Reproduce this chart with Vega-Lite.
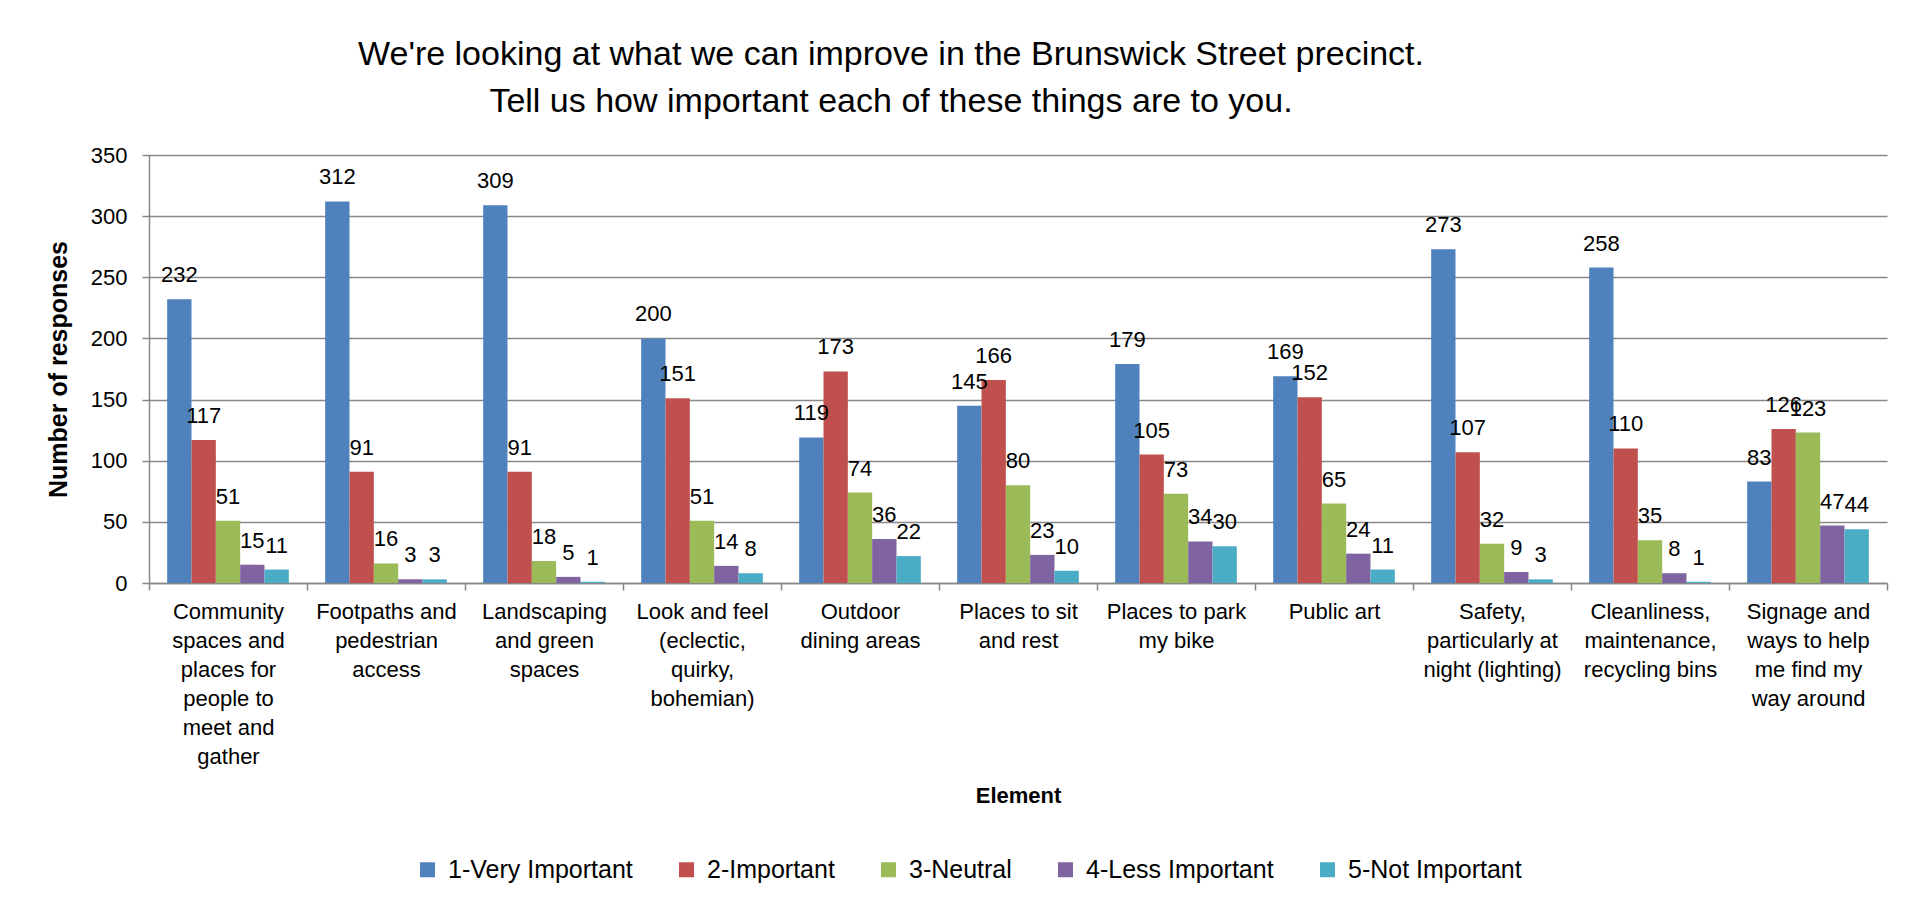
{
  "$schema": "https://vega.github.io/schema/vega-lite/v6.json",
  "width": 1738,
  "height": 428,
  "autosize": {"type": "none"},
  "padding": {"left": 149, "top": 155, "right": 29, "bottom": 322},
  "background": "white",
  "title": {
    "text": ["We're looking at what we can improve in the Brunswick Street precinct.", "Tell us how important each of these things are to you."],
    "font": "Liberation Sans",
    "fontSize": 34,
    "fontWeight": "normal",
    "color": "black",
    "anchor": "middle",
    "frame": "group",
    "dx": -127,
    "lineHeight": 47,
    "offset": 25
  },
  "config": {
    "view": {"stroke": null},
    "font": "Liberation Sans",
    "axis": {
      "labelFont": "Liberation Sans",
      "titleFont": "Liberation Sans",
      "labelColor": "black",
      "titleColor": "black",
      "domainColor": "#888888",
      "tickColor": "#888888",
      "gridColor": "#888888",
      "domainWidth": 1.5,
      "tickWidth": 1.5,
      "gridWidth": 1.5
    },
    "legend": {"labelFont": "Liberation Sans"}
  },
  "data": {
    "values": [
      {"element": "Community|spaces and|places for|people to|meet and|gather", "series": "1-Very Important", "value": 232},
      {"element": "Community|spaces and|places for|people to|meet and|gather", "series": "2-Important", "value": 117},
      {"element": "Community|spaces and|places for|people to|meet and|gather", "series": "3-Neutral", "value": 51},
      {"element": "Community|spaces and|places for|people to|meet and|gather", "series": "4-Less Important", "value": 15},
      {"element": "Community|spaces and|places for|people to|meet and|gather", "series": "5-Not Important", "value": 11},
      {"element": "Footpaths and|pedestrian|access", "series": "1-Very Important", "value": 312},
      {"element": "Footpaths and|pedestrian|access", "series": "2-Important", "value": 91},
      {"element": "Footpaths and|pedestrian|access", "series": "3-Neutral", "value": 16},
      {"element": "Footpaths and|pedestrian|access", "series": "4-Less Important", "value": 3},
      {"element": "Footpaths and|pedestrian|access", "series": "5-Not Important", "value": 3},
      {"element": "Landscaping|and green|spaces", "series": "1-Very Important", "value": 309},
      {"element": "Landscaping|and green|spaces", "series": "2-Important", "value": 91},
      {"element": "Landscaping|and green|spaces", "series": "3-Neutral", "value": 18},
      {"element": "Landscaping|and green|spaces", "series": "4-Less Important", "value": 5},
      {"element": "Landscaping|and green|spaces", "series": "5-Not Important", "value": 1},
      {"element": "Look and feel|(eclectic,|quirky,|bohemian)", "series": "1-Very Important", "value": 200},
      {"element": "Look and feel|(eclectic,|quirky,|bohemian)", "series": "2-Important", "value": 151},
      {"element": "Look and feel|(eclectic,|quirky,|bohemian)", "series": "3-Neutral", "value": 51},
      {"element": "Look and feel|(eclectic,|quirky,|bohemian)", "series": "4-Less Important", "value": 14},
      {"element": "Look and feel|(eclectic,|quirky,|bohemian)", "series": "5-Not Important", "value": 8},
      {"element": "Outdoor|dining areas", "series": "1-Very Important", "value": 119},
      {"element": "Outdoor|dining areas", "series": "2-Important", "value": 173},
      {"element": "Outdoor|dining areas", "series": "3-Neutral", "value": 74},
      {"element": "Outdoor|dining areas", "series": "4-Less Important", "value": 36},
      {"element": "Outdoor|dining areas", "series": "5-Not Important", "value": 22},
      {"element": "Places to sit|and rest", "series": "1-Very Important", "value": 145},
      {"element": "Places to sit|and rest", "series": "2-Important", "value": 166},
      {"element": "Places to sit|and rest", "series": "3-Neutral", "value": 80},
      {"element": "Places to sit|and rest", "series": "4-Less Important", "value": 23},
      {"element": "Places to sit|and rest", "series": "5-Not Important", "value": 10},
      {"element": "Places to park|my bike", "series": "1-Very Important", "value": 179},
      {"element": "Places to park|my bike", "series": "2-Important", "value": 105},
      {"element": "Places to park|my bike", "series": "3-Neutral", "value": 73},
      {"element": "Places to park|my bike", "series": "4-Less Important", "value": 34},
      {"element": "Places to park|my bike", "series": "5-Not Important", "value": 30},
      {"element": "Public art", "series": "1-Very Important", "value": 169},
      {"element": "Public art", "series": "2-Important", "value": 152},
      {"element": "Public art", "series": "3-Neutral", "value": 65},
      {"element": "Public art", "series": "4-Less Important", "value": 24},
      {"element": "Public art", "series": "5-Not Important", "value": 11},
      {"element": "Safety,|particularly at|night (lighting)", "series": "1-Very Important", "value": 273},
      {"element": "Safety,|particularly at|night (lighting)", "series": "2-Important", "value": 107},
      {"element": "Safety,|particularly at|night (lighting)", "series": "3-Neutral", "value": 32},
      {"element": "Safety,|particularly at|night (lighting)", "series": "4-Less Important", "value": 9},
      {"element": "Safety,|particularly at|night (lighting)", "series": "5-Not Important", "value": 3},
      {"element": "Cleanliness,|maintenance,|recycling bins", "series": "1-Very Important", "value": 258},
      {"element": "Cleanliness,|maintenance,|recycling bins", "series": "2-Important", "value": 110},
      {"element": "Cleanliness,|maintenance,|recycling bins", "series": "3-Neutral", "value": 35},
      {"element": "Cleanliness,|maintenance,|recycling bins", "series": "4-Less Important", "value": 8},
      {"element": "Cleanliness,|maintenance,|recycling bins", "series": "5-Not Important", "value": 1},
      {"element": "Signage and|ways to help|me find my|way around", "series": "1-Very Important", "value": 83},
      {"element": "Signage and|ways to help|me find my|way around", "series": "2-Important", "value": 126},
      {"element": "Signage and|ways to help|me find my|way around", "series": "3-Neutral", "value": 123},
      {"element": "Signage and|ways to help|me find my|way around", "series": "4-Less Important", "value": 47},
      {"element": "Signage and|ways to help|me find my|way around", "series": "5-Not Important", "value": 44}
    ]
  },
  "encoding": {
    "x": {
      "field": "element",
      "type": "nominal",
      "sort": null,
      "scale": {"paddingInner": 0, "paddingOuter": 0},
      "axis": {
        "title": "Element",
        "titleFontSize": 22,
        "titleFontWeight": "bold",
        "titlePadding": 18,
        "labelExpr": "split(datum.label, '|')",
        "labelAngle": 0,
        "labelFontSize": 22,
        "labelLineHeight": 29,
        "labelPadding": 11,
        "labelBaseline": "top",
        "tickSize": 7,
        "tickBand": "extent",
        "grid": false
      }
    },
    "xOffset": {
      "field": "series",
      "type": "nominal",
      "scale": {"paddingOuter": 0.747, "paddingInner": 0}
    },
    "y": {
      "field": "value",
      "type": "quantitative",
      "scale": {"domain": [0, 350]},
      "axis": {
        "title": "Number of responses",
        "titleFontSize": 25,
        "titleFontWeight": "bold",
        "titlePadding": 19,
        "values": [0, 50, 100, 150, 200, 250, 300, 350],
        "labelFontSize": 22,
        "labelPadding": 15,
        "tickSize": 7,
        "grid": true
      }
    }
  },
  "layer": [
    {
      "mark": {"type": "bar"},
      "encoding": {
        "color": {
          "field": "series",
          "type": "nominal",
          "scale": {
            "domain": ["1-Very Important", "2-Important", "3-Neutral", "4-Less Important", "5-Not Important"],
            "range": ["#4F81BD", "#C0504D", "#9BBB59", "#8064A2", "#4BACC6"]
          },
          "legend": {
            "title": null,
            "orient": "none",
            "direction": "horizontal",
            "legendX": 266,
            "legendY": 702,
            "symbolType": "square",
            "symbolSize": 225,
            "symbolStrokeWidth": 0,
            "symbolOpacity": 1,
            "labelFontSize": 25,
            "labelLimit": 0,
            "labelColor": "black",
            "labelOffset": 8,
            "columnPadding": 41
          }
        }
      }
    },
    {
      "mark": {"type": "text", "fontSize": 22, "baseline": "alphabetic", "dy": -17, "color": "black"},
      "encoding": {
        "text": {"field": "value", "type": "quantitative"}
      }
    }
  ]
}
